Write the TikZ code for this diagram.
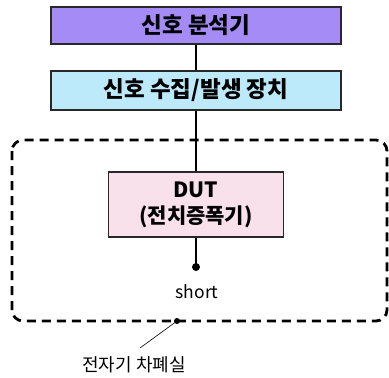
\documentclass[tikz,border=0pt]{standalone}
\usepackage{fontspec}
\newfontfamily\kr{Noto Sans CJK KR}
\definecolor{purplebox}{RGB}{164,139,245}
\definecolor{cyanbox}{RGB}{189,234,251}
\definecolor{pinkbox}{RGB}{249,225,236}
\definecolor{edge}{RGB}{40,40,40}
\begin{document}
\begin{tikzpicture}[x=1pt,y=-1pt,
  boxstyle/.style={draw=edge,line width=1.6pt,inner sep=0pt,font=\kr\bfseries\fontsize{22.5}{26}\selectfont,align=center},
  wire/.style={line width=2.8pt,black},
  shield/.style={line width=2.8pt,dash pattern=on 9pt off 6pt,rounded corners=11pt}]
\useasboundingbox (0,0) rectangle (389,378);
\node[boxstyle,fill=purplebox,minimum width=290pt,minimum height=37pt] (ana) at (196,25.5) {신호 분석기};
\node[boxstyle,fill=cyanbox,minimum width=290pt,minimum height=39pt] (gen) at (196,90.5) {신호 수집/발생 장치};
\draw[shield] (12,140) rectangle (387,321);
\node[boxstyle,fill=pinkbox,minimum width=175pt,minimum height=65pt,font=\kr\bfseries\fontsize{21}{26}\selectfont] (dut) at (196,204.5) {DUT\\(전치증폭기)};
\coordinate (sh) at (196,267);
\draw[wire] (ana.south) -- (gen.north);
\draw[wire] (gen.south) -- (dut.north);
\draw[wire] (dut.south) -- (sh);
\fill (sh) circle (4pt);
\node[font=\kr\fontsize{17.5}{20}\selectfont] (shortlbl) at (197,292) {short};
\coordinate (wallpt) at (177,321);
\fill (wallpt) circle (3pt);
\node[font=\kr\fontsize{18}{21}\selectfont] (wall) at (134,365) {전자기 차폐실};
\draw[line width=0.6pt] (wallpt) -- (140,348);
\end{tikzpicture}
\end{document}
